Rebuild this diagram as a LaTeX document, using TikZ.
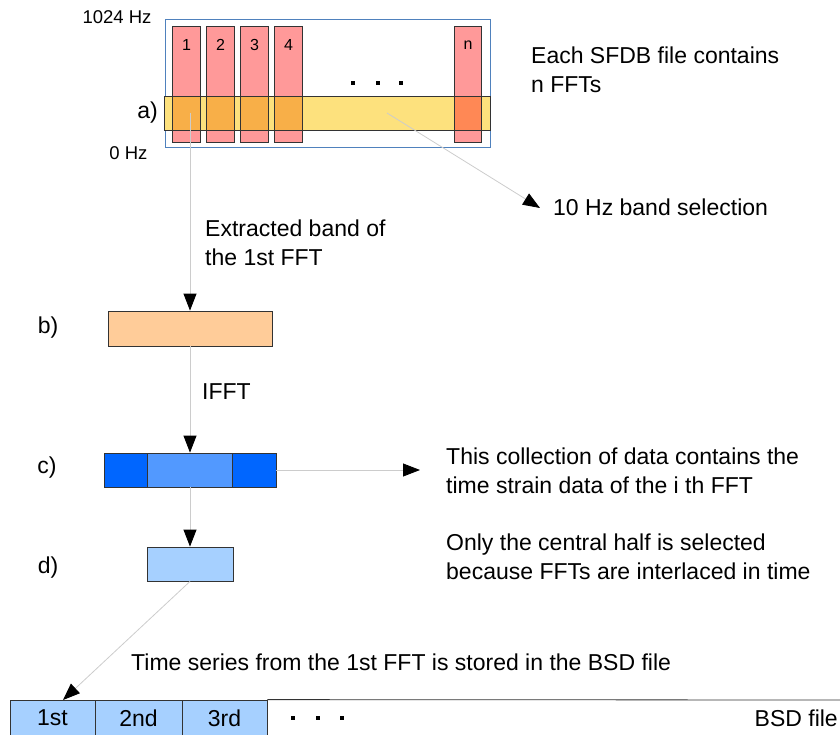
\documentclass[tikz,border=0pt]{standalone}
\usepackage{fontspec}
\setmainfont{Liberation Sans}
\usetikzlibrary{arrows.meta,calc,positioning}
\definecolor{fftred}{HTML}{FF9999}
\definecolor{bandyellow}{HTML}{FDE17D}
\definecolor{bandover}{HTML}{F8AF48}
\definecolor{bandovern}{HTML}{FF8855}
\definecolor{peach}{HTML}{FFCC99}
\definecolor{darkblue}{HTML}{0066FF}
\definecolor{midblue}{HTML}{5299FF}
\definecolor{lightblue}{HTML}{A6D0FF}
\definecolor{frameblue}{HTML}{4F81BD}
\definecolor{arrowgray}{HTML}{CCCCCC}
\tikzstyle{fftbar}=[fill=fftred,minimum width=27pt,minimum height=115pt,inner sep=0pt]
\tikzstyle{databox}=[draw=black!80,line width=0.8pt,minimum height=34pt,inner sep=0pt,font=\fontsize{23}{29}\selectfont]
\tikzstyle{flow}=[draw=arrowgray,line width=0.8pt,-{Triangle[length=17pt,width=13pt,color=black]}]
\tikzstyle{txt}=[anchor=west,inner sep=0pt,align=left,font=\fontsize{23}{29}\selectfont]
\tikzstyle{hzlabel}=[inner sep=0pt,font=\fontsize{18.5}{22}\selectfont]
\tikzstyle{barnum}=[inner sep=0pt,font=\fontsize{16}{19}\selectfont]
\newcommand{\fftbar}[3]{% name, x of centre, number
	\node[fftbar] (#1) at (#2,84.5) {};
	\node[barnum] (#1n) at (#2,45) {#3};
}
\newcommand{\baroverlap}[2]{% bar name, overlap colour
	\fill[#2] (#1.west |- band.north) rectangle (#1.east |- band.south);
	\draw[black!80,line width=0.8pt] (#1.south west) rectangle (#1.north east);
}
\newcommand{\dotrow}[2]{% y, list of x
	\foreach \dx in {#2} {\fill (\dx-2,#1-2) rectangle (\dx+2,#1+2);}
}

\begin{document}
\begin{tikzpicture}[x=1pt,y=-1pt]
	\useasboundingbox (0,0) rectangle (840,735);
	\clip (0,0) rectangle (840,735);
	% a) the SFDB file
	\draw[frameblue,line width=1pt] (165,20) rectangle (490,148);
	\fftbar{bar1}{186.5}{1}
	\fftbar{bar2}{220.5}{2}
	\fftbar{bar3}{254.5}{3}
	\fftbar{bar4}{288.5}{4}
	\fftbar{barn}{468}{n}
	\node[fill=bandyellow,minimum width=325pt,minimum height=33pt,inner sep=0pt] (band) at (327.5,113.5) {};
	\baroverlap{bar1}{bandover}
	\baroverlap{bar2}{bandover}
	\baroverlap{bar3}{bandover}
	\baroverlap{bar4}{bandover}
	\baroverlap{barn}{bandovern}
	\draw[black!80,line width=0.8pt] (band.south west) rectangle (band.north east);
	\dotrow{83}{353,378,401}
	\node[hzlabel] (top) at (117,17) {1024 Hz};
	\node[hzlabel] (bottom) at (128.5,153) {0 Hz};
	\node[txt,anchor=center] (la) at (147.5,113) {a)};
	\node[txt] (each) at (531,70) {Each SFDB file contains\\n FFTs};
	\coordinate (sel1) at (190,113);
	\coordinate (sel10) at (387,113);
	\coordinate (tip10) at (540,208);
	\node[txt] (band10) at (553,207) {10 Hz band selection};
	% b) band of the 1st FFT
	\node[databox,fill=peach,minimum width=164pt,minimum height=35pt] (bbox) at (190,328.5) {};
	\node[txt,anchor=center] (lb) at (48,328) {b)};
	\node[txt] (extr) at (205,242.5) {Extracted band of\\the 1st FFT};
	\node[txt] (ifft) at (202,392) {IFFT};
	% c) time series
	\node[databox,fill=darkblue,minimum width=43.5pt] (cl) at (125.75,470) {};
	\node[databox,fill=midblue,minimum width=85pt] (cm) at (190,470) {};
	\node[databox,fill=darkblue,minimum width=43.5pt] (cr) at (254.25,470) {};
	\node[txt,anchor=center] (lc) at (47,468) {c)};
	\coordinate (tipc) at (420,470);
	\node[txt] (coll) at (446,471) {This collection of data contains the\\time strain data of the i th FFT};
	% d) central half
	\node[databox,fill=lightblue,minimum width=86pt] (dbox) at (190,564) {};
	\node[txt,anchor=center] (ld) at (48,568) {d)};
	\node[txt] (half) at (446,557) {Only the central half is selected\\because FFTs are interlaced in time};
	% BSD file
	\node[txt] (stored) at (131,662) {Time series from the 1st FFT is stored in the BSD file};
	\node[databox,fill=lightblue,minimum width=85pt,minimum height=36pt] (s1) at (52.5,718) {1st};
	\node[databox,fill=lightblue,minimum width=87pt,minimum height=36pt] (s2) at (138.5,718) {2nd};
	\node[databox,fill=lightblue,minimum width=85pt,minimum height=36pt] (s3) at (224.5,718) {3rd};
	\coordinate (stripend) at (840,700);
	\draw[black!80,line width=0.8pt] (s3.north east) -- (stripend);
	\dotrow{718}{293,318,342}
	\node[txt,anchor=east] (bsd) at (838,718) {BSD file};
	\coordinate (tips1) at (63,700);
	% connectors
	\draw[flow] (sel1) -- (bbox.north);
	\draw[flow] (sel10) -- (tip10);
	\draw[flow] (bbox.south) -- (cm.north);
	\draw[flow] (cr.east) -- (tipc);
	\draw[flow] (cm.south) -- (dbox.north);
	\draw[flow] (dbox.south) -- (tips1);
\end{tikzpicture}
\end{document}
